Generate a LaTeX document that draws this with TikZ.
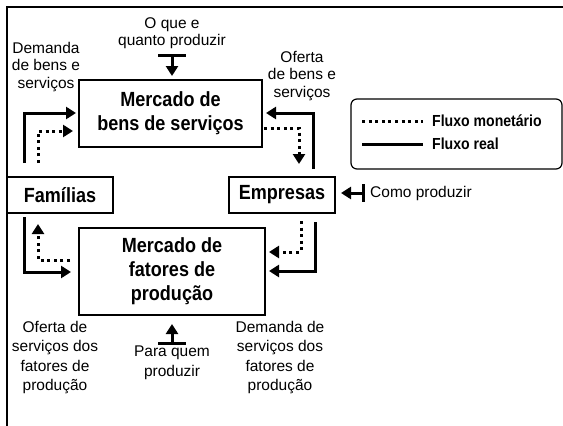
\documentclass[tikz,border=0pt]{standalone}
\usepackage{fontspec}
\setmainfont{Liberation Sans}
\newfontfamily\boxfont{Liberation Sans}[FakeStretch=0.88]
\usetikzlibrary{arrows.meta}
\begin{document}
\begin{tikzpicture}[x=1pt,y=-1pt,
  box/.style={draw,line width=1.2pt,inner sep=0pt,align=center,font=\boxfont\bfseries\fontsize{20.5}{24}\selectfont},
  lbl/.style={align=center,inner sep=0pt,font=\fontsize{15.5}{17.5}\selectfont},
  lbl2/.style={align=center,inner sep=0pt,font=\fontsize{15.5}{19.6}\selectfont},
  real/.style={line width=3pt,-{Triangle[length=10pt,width=12pt]}},
  mon/.style={line width=3pt,dash pattern=on 3pt off 3.6pt,-{Triangle[length=10pt,width=12pt]}},
  bar/.style={line width=3pt},
  legtext/.style={anchor=west,inner sep=0pt,font=\boxfont\bfseries\fontsize{16}{18}\selectfont}]
\useasboundingbox (0,0) rectangle (563,426);
% frame
\draw[line width=2.2pt] (7,426) -- (7,7) -- (563,7);
% boxes
\node[box,minimum width=183pt,minimum height=67pt] (bens) at (170.5,113.5) {Mercado de\\bens de serviços};
\node[box,minimum width=186pt,minimum height=87pt] (fatores) at (172,271.5) {Mercado de\\fatores de\\produção};
\node[box,minimum width=106pt,minimum height=36pt] (familias) at (60,195) {Famílias};
\node[box,minimum width=106pt,minimum height=36pt] (empresas) at (282,195) {Empresas};
\node[draw,line width=1.2pt,rounded corners=6pt,minimum width=211pt,minimum height=70pt] (legend) at (456.5,134) {};
% labels
\node[lbl] (oque) at (172,33) {O que e\\quanto produzir};
\node[lbl] (dbs) at (46,67) {Demanda\\de bens e\\serviços};
\node[lbl] (obs) at (302,76) {Oferta\\de bens e\\serviços};
\node[lbl2] (osf) at (55,357.5) {Oferta de\\serviços dos\\fatores de\\produção};
\node[lbl2] (dsf) at (280,357.5) {Demanda de\\serviços dos\\fatores de\\produção};
\node[lbl2] (pq) at (172,363) {Para quem\\produzir};
\node[lbl,anchor=west] (como) at (370,193) {Como produzir};
% legend
\coordinate (lm1) at (362,121); \coordinate (lm2) at (423,121);
\coordinate (lr1) at (362,144); \coordinate (lr2) at (423,144);
\draw[line width=3pt,dash pattern=on 3pt off 3.6pt] (lm1) -- (lm2);
\draw[line width=3pt] (lr1) -- (lr2);
\node[legtext] (lmt) at (432,121) {Fluxo monetário};
\node[legtext] (lrt) at (432,144) {Fluxo real};
% top-left
\coordinate (a1) at (24,163); \coordinate (a2) at (76,113);
\draw[real] (a1) |- (a2);
\coordinate (b1) at (38,163); \coordinate (b2) at (73,131);
\draw[mon] (b1) |- (b2);
% top-right
\coordinate (c1) at (313,169); \coordinate (c2) at (266,113);
\draw[real] (c1) |- (c2);
\coordinate (d1) at (264,128); \coordinate (d2) at (299,164);
\draw[mon] (d1) -| (d2);
% bottom-left
\coordinate (e1) at (24,217); \coordinate (e2) at (71,272);
\draw[real] (e1) |- (e2);
\coordinate (f1) at (70,260); \coordinate (f2) at (38,224);
\draw[mon] (f1) -| (f2);
% bottom-right
\coordinate (g1) at (301,221); \coordinate (g2) at (269,252);
\draw[mon] (g1) |- (g2);
\coordinate (h1) at (315,222); \coordinate (h2) at (269,271);
\draw[real] (h1) |- (h2);
% T arrows
\coordinate (t1) at (172,55); \coordinate (t2) at (172,76);
\draw[bar] (158,55) -- (186,55);
\draw[real] (t1) -- (t2);
\coordinate (u1) at (172,343); \coordinate (u2) at (172,324);
\draw[bar] (158,343) -- (186,343);
\draw[real] (u1) -- (u2);
\coordinate (v1) at (363,193); \coordinate (v2) at (341,193);
\draw[bar] (363,184) -- (363,202);
\draw[real] (v1) -- (v2);
\end{tikzpicture}
\end{document}
